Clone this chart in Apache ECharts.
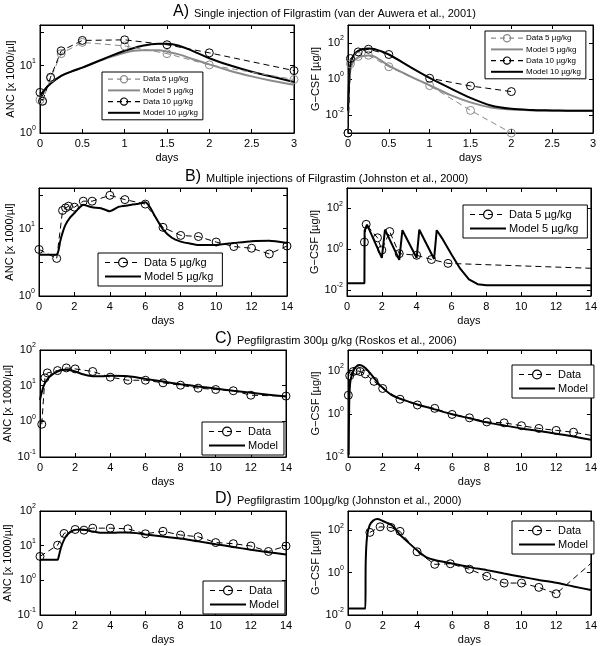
<!DOCTYPE html>
<html>
<head>
<meta charset="utf-8">
<title>G-CSF / ANC</title>
<style>
  html, body { margin: 0; padding: 0; background: #fff; }
  #main { width: 600px; height: 646px; }
</style>
</head>
<body>
<div id="main"></div>
<script src="https://cdn.jsdelivr.net/npm/echarts@6/dist/echarts.min.js"></script>
<script>
// ---- A) single injection of Filgrastim ----
const aAncDataDays = [0, 0.03, 0.125, 0.25, 0.5, 1, 1.5, 2, 3];
const aAncData5 = [3.1, 3.0, 6.5, 15, 22, 19.5, 15, 10.2, 6.2];
const aAncData10 = [4.0, 2.95, 6.7, 16.5, 23.5, 24, 20.3, 15.4, 8.4];
const aAncModelDays = [0, 0.05, 0.125, 0.25, 0.375, 0.5, 0.75, 1, 1.2, 1.4, 1.5, 1.65, 1.8, 2, 2.25, 2.5, 2.75, 3];
const aAncModel5 = [3.5, 4.3, 5.4, 7, 8.2, 9.3, 12.3, 15.5, 16.8, 16.8, 16, 14.5, 12.5, 10.4, 8.3, 6.9, 5.9, 5.2];
const aAncModel10 = [3.5, 4.3, 5.4, 7, 8.2, 9.3, 12.5, 16.5, 19.5, 21, 21, 19.5, 16.5, 12.8, 10, 8.1, 6.8, 5.7];

const aCsfDataDays = [0, 0.03, 0.125, 0.25, 0.5, 1, 1.5, 2];
const aCsfData5 = [0.001, 7, 18, 21, 4.8, 0.43, 0.018, 0.001];
const aCsfData10 = [0.001, 13.7, 32, 45, 23, 1.1, 0.41, 0.2];
const aCsfModelDays = [0, 0.02, 0.04, 0.08, 0.125, 0.18, 0.25, 0.32, 0.5, 0.75, 1, 1.25, 1.5, 1.75, 2, 2.25, 2.5, 2.75, 3];
const aCsfModel5 = [0.017, 1.5, 5, 11, 16, 19, 20, 18, 5.5, 1.5, 0.45, 0.13, 0.05, 0.026, 0.02, 0.018, 0.017, 0.017, 0.017];
const aCsfModel10 = [0.017, 3, 10, 25, 36, 46, 50, 46, 23, 5, 1.15, 0.31, 0.09, 0.034, 0.022, 0.019, 0.018, 0.017, 0.017];

// ---- B) multiple injections of Filgrastim ----
const bAncDataDays = [0, 1, 1.33, 1.5, 1.67, 2, 2.5, 3, 4, 4.85, 6, 7, 8, 9, 10, 11, 12, 13, 14];
const bAncData = [4.9, 3.6, 18.5, 20.2, 21.4, 20.7, 25.4, 25.4, 31, 26.8, 23, 10.4, 7.9, 7.6, 6.3, 5.4, 5.1, 4.2, 5.5];
const bAncModelDays = [0, 1, 1.1, 1.2, 1.35, 1.5, 1.75, 2, 2.25, 2.5, 2.75, 3, 3.5, 4, 4.5, 5, 5.5, 6, 6.25, 6.5, 7, 7.5, 8, 8.5, 9, 10, 11, 12, 13, 14];
const bAncModel = [4.1, 4.1, 4.7, 6.5, 9, 11.4, 14.5, 17, 20, 22.5, 21.5, 20.6, 20, 18, 21, 22, 23, 24.5, 21, 16, 9.7, 7.3, 6.4, 6, 5.7, 5.7, 6.1, 6.5, 6.6, 6.1];

const bCsfDataDays = [1, 1.1, 1.75, 2, 2.45, 3, 4, 4.85, 5.8, 14];
const bCsfData = [2.2, 16.5, 3.6, 0.9, 7.3, 0.6, 0.5, 0.31, 0.2, 0.115];
const bCsfModelDays = [0, 1, 1.01, 1.15, 2, 2.18, 3, 3.18, 4, 4.15, 5, 5.15, 5.5, 6, 6.5, 7, 7.5, 8, 10, 12, 14];
const bCsfModel = [0.021, 0.021, 8, 16, 0.37, 9, 0.3, 8.5, 0.37, 9, 0.33, 8.5, 3, 0.55, 0.11, 0.033, 0.019, 0.017, 0.017, 0.017, 0.017];

// ---- C) Pegfilgrastim 300 ----
const cAncDataDays = [0.1, 0.28, 0.42, 1, 1.5, 2, 3, 4, 5, 6, 7, 8, 9, 10, 11, 12, 14];
const cAncData = [0.83, 16.5, 22.8, 26.5, 31.5, 29.5, 25, 17.3, 14.2, 14.2, 12, 10.3, 8.5, 7.8, 7.2, 5.4, 5.1];
const cAncModelDays = [0, 0.1, 0.25, 0.5, 0.75, 1, 1.25, 1.5, 1.75, 2, 2.5, 3, 3.5, 4, 5, 6, 7, 8, 9, 10, 11, 12, 13, 14];
const cAncModel = [4, 6.5, 11, 17, 21.5, 25, 27.5, 28, 27, 25, 20.5, 18.5, 18.5, 19, 18.5, 15.5, 13, 11, 9.5, 8.3, 7.2, 6.3, 5.6, 5.0];

const cCsfDataDays = [0.02, 0.1, 0.3, 0.5, 0.7, 1, 1.5, 2, 3, 4, 5, 6, 7, 8, 9, 10, 11, 12, 13, 14];
const cCsfData = [7.2, 58, 90, 100, 90, 70, 31.6, 14.8, 4.7, 2.55, 1.78, 0.93, 0.65, 0.42, 0.38, 0.28, 0.21, 0.17, 0.14, 0.1];
const cCsfModelDays = [0.04, 0.07, 0.12, 0.2, 0.35, 0.5, 0.65, 0.8, 1, 1.25, 1.5, 1.75, 2, 2.5, 3, 4, 5, 6, 7, 8, 9, 10, 11, 12, 13, 14];
const cCsfModel = [0.012, 3, 25, 55, 110, 160, 180, 170, 130, 80, 45, 25, 16, 7.5, 5, 2.7, 1.6, 0.95, 0.62, 0.4, 0.29, 0.21, 0.16, 0.12, 0.088, 0.063];

// ---- D) Pegfilgrastim 100 ----
const dAncDataDays = [0, 1, 1.37, 2, 2.5, 3, 4, 5, 6, 7, 8, 9, 10, 11, 12, 13, 14];
const dAncData = [4.9, 10.3, 22.5, 29.3, 28, 32, 32, 30.6, 22, 26, 20.3, 18.1, 12.3, 11.4, 9.8, 6.8, 9.8];
const dAncModelDays = [0, 1, 1.05, 1.2, 1.4, 1.6, 1.8, 2, 2.25, 2.5, 2.75, 3, 3.5, 4, 4.5, 5, 5.5, 6, 7, 8, 9, 10, 11, 12, 13, 14];
const dAncModel = [3.9, 3.9, 4.5, 9, 16, 22, 26, 28.5, 29.5, 29, 27.5, 25.5, 23.5, 23.5, 24, 24, 23, 21, 18.5, 16, 13.3, 11, 9.2, 7.6, 6.5, 5.6];

const dCsfDataDays = [1.26, 1.85, 2.48, 3, 3.98, 5, 5.9, 7, 8, 9, 10, 11, 12, 14];
const dCsfData = [78, 143, 133, 87, 9.5, 2.44, 2.6, 1.43, 0.67, 0.32, 0.32, 0.2, 0.1, 2.7];
const dCsfModelDays = [0, 1, 1.02, 1.1, 1.25, 1.45, 1.7, 2, 2.25, 2.5, 2.75, 3, 3.5, 4, 4.5, 5, 6, 7, 8, 9, 10, 11, 12, 13, 14];
const dCsfModel = [0.02, 0.02, 3, 50, 170, 280, 330, 270, 220, 175, 110, 60, 25, 11, 5.4, 3.9, 2.7, 1.8, 1.3, 0.9, 0.63, 0.45, 0.33, 0.22, 0.15];

// tick exponents shown on the log axes
const ancTicksAB = [0, 1];
const ancTicksCD = [-1, 0, 1, 2];
const csfTicks = [-2, 0, 2];

const TITLES = [
  ['A)', 'Single injection of Filgrastim (van der Auwera et al., 2001)'],
  ['B)', 'Multiple injections of Filgrastim (Johnston et al., 2000)'],
  ['C)', 'Pegfilgrastim 300µ g/kg (Roskos et al., 2006)'],
  ['D)', 'Pegfilgrastim 100µg/kg (Johnston et al., 2000)']
];

const FONT = 'Liberation Sans, Arial, Helvetica, sans-serif';
const GRAY = '#8a8a8a';
const ANC_NAME = 'ANC [x 1000/µl]';
const CSF_NAME = 'G\u2212CSF [µg/l]';

// layout of the 8 panels
const panels = [
  { box: [40, 25, 254, 108], x: [0, 3, 0.5], y: [0, 1.6], ticks: ancTicksAB, yName: ANC_NAME,
    legend: { left: 102, top: 72, small: true },
    series: [
      { name: 'Data 5 µg/kg', days: aAncDataDays, vals: aAncData5, data: true, gray: true },
      { name: 'Model 5 µg/kg', days: aAncModelDays, vals: aAncModel5, gray: true, smooth: 0.4 },
      { name: 'Data 10 µg/kg', days: aAncDataDays, vals: aAncData10, data: true },
      { name: 'Model 10 µg/kg', days: aAncModelDays, vals: aAncModel10, smooth: 0.4 }
    ] },
  { box: [348, 25, 245, 108], x: [0, 3, 0.5], y: [-3, 3], ticks: csfTicks, yName: CSF_NAME,
    legend: { left: 485, top: 31, small: true },
    series: [
      { name: 'Data 5 µg/kg', days: aCsfDataDays, vals: aCsfData5, data: true, gray: true },
      { name: 'Model 5 µg/kg', days: aCsfModelDays, vals: aCsfModel5, gray: true, smooth: 0.3 },
      { name: 'Data 10 µg/kg', days: aCsfDataDays, vals: aCsfData10, data: true },
      { name: 'Model 10 µg/kg', days: aCsfModelDays, vals: aCsfModel10, smooth: 0.3 }
    ] },
  { box: [39, 188, 248, 108], x: [0, 14, 2], y: [0, 1.6], ticks: ancTicksAB, yName: ANC_NAME,
    legend: { left: 98, top: 253 },
    series: [
      { name: 'Data 5 µg/kg ', days: bAncDataDays, vals: bAncData, data: true },
      { name: 'Model 5 µg/kg ', days: bAncModelDays, vals: bAncModel, smooth: 0.2 }
    ] },
  { box: [347, 188, 245, 108], x: [0, 14, 2], y: [-2.3, 3], ticks: csfTicks, yName: CSF_NAME,
    legend: { left: 463, top: 205 },
    series: [
      { name: 'Data 5 µg/kg ', days: bCsfDataDays, vals: bCsfData, data: true, open: true },
      { name: 'Model 5 µg/kg ', days: bCsfModelDays, vals: bCsfModel, smooth: 0 }
    ] },
  { box: [40, 350, 246, 107], x: [0, 14, 2], y: [-1, 2], ticks: ancTicksCD, yName: ANC_NAME,
    legend: { left: 202, top: 422 },
    series: [
      { name: 'Data', days: cAncDataDays, vals: cAncData, data: true },
      { name: 'Model', days: cAncModelDays, vals: cAncModel, smooth: 0.3 }
    ] },
  { box: [348, 350, 245, 107], x: [0, 14, 2], y: [-2, 2.95], ticks: csfTicks, yName: CSF_NAME,
    legend: { left: 512, top: 365 },
    series: [
      { name: 'Data', days: cCsfDataDays, vals: cCsfData, data: true, open: true },
      { name: 'Model', days: cCsfModelDays, vals: cCsfModel, smooth: 0.3 }
    ] },
  { box: [40, 511, 246, 105], x: [0, 14, 2], y: [-1, 2], ticks: ancTicksCD, yName: ANC_NAME,
    legend: { left: 203, top: 581 },
    series: [
      { name: 'Data', days: dAncDataDays, vals: dAncData, data: true },
      { name: 'Model', days: dAncModelDays, vals: dAncModel, smooth: 0.2 }
    ] },
  { box: [348, 511, 245, 105], x: [0, 14, 2], y: [-2, 2.9], ticks: csfTicks, yName: CSF_NAME,
    legend: { left: 512, top: 521 },
    series: [
      { name: 'Data', days: dCsfDataDays, vals: dCsfData, data: true, open: true },
      { name: 'Model', days: dCsfModelDays, vals: dCsfModel, smooth: 0.25 }
    ] }
];

const titleTops = [-2, 163, 325, 485];
const titleLefts = [168, 180, 210, 210];

let grids = [], xAxes = [], yAxes = [], series = [], legends = [], titles = [];

TITLES.forEach(function (t, i) {
  titles.push({
    text: '{a|' + t[0] + '} {b|' + t[1] + '}',
    left: titleLefts[i], top: titleTops[i],
    textStyle: {
      fontFamily: FONT, fontWeight: 'normal',
      rich: {
        a: { fontSize: 16, color: '#000', fontFamily: FONT, fontWeight: 'normal' },
        b: { fontSize: 11, color: '#000', fontFamily: FONT, fontWeight: 'normal', padding: [3, 0, 0, 0] }
      }
    }
  });
});

function yLabel(v) {
  const e = Math.round(v);
  if (Math.abs(v - e) > 1e-6) return '';
  return '{m|10}{e|' + e + '}';
}

panels.forEach(function (p, i) {
  grids.push({ left: p.box[0], top: p.box[1], width: p.box[2], height: p.box[3],
    show: true, borderColor: '#000', borderWidth: 1, backgroundColor: '#fff' });

  const tickOn = { show: true, inside: true, length: 4, lineStyle: { color: '#000', width: 1 } };
  const lineOn = { show: true, onZero: false, lineStyle: { color: '#000', width: 1 } };
  const ticks = p.ticks;

  // bottom and top x axes
  xAxes.push({ type: 'value', gridIndex: i, position: 'bottom', min: p.x[0], max: p.x[1], interval: p.x[2],
    name: 'days', nameLocation: 'middle', nameGap: 19,
    nameTextStyle: { fontFamily: FONT, fontSize: 11, color: '#000' },
    axisLine: lineOn, axisTick: tickOn, splitLine: { show: false },
    axisLabel: { fontFamily: FONT, fontSize: 11, color: '#000', margin: 5 } });
  xAxes.push({ type: 'value', gridIndex: i, position: 'top', min: p.x[0], max: p.x[1], interval: p.x[2],
    axisLine: lineOn, axisTick: tickOn, splitLine: { show: false }, axisLabel: { show: false } });

  // left and right y axes, log10 of the values
  yAxes.push({ type: 'value', gridIndex: i, position: 'left', min: p.y[0], max: p.y[1], splitNumber: 3,
    name: p.yName, nameLocation: 'middle', nameGap: 24,
    nameTextStyle: { fontFamily: FONT, fontSize: 11, color: '#000' },
    axisLine: lineOn, axisTick: tickOn, splitLine: { show: false },
    axisLabel: {
      showMinLabel: true, showMaxLabel: true, margin: 4,
      formatter: function (v) { return ticks.indexOf(Math.round(v)) >= 0 ? yLabel(v) : ''; },
      rich: {
        m: { fontFamily: FONT, fontSize: 11, color: '#000' },
        e: { fontFamily: FONT, fontSize: 7, color: '#000', padding: [0, 0, 9, 0] }
      }
    } });
  yAxes.push({ type: 'value', gridIndex: i, position: 'right', min: p.y[0], max: p.y[1], splitNumber: 3,
    axisLine: lineOn, axisTick: tickOn, splitLine: { show: false }, axisLabel: { show: false } });

  const legendItems = [];
  p.series.forEach(function (s) {
    const pts = s.days.map(function (d, k) { return [d, Math.log10(s.vals[k])]; });
    const col = s.gray ? GRAY : '#000';
    if (s.data) {
      series.push({
        type: 'line', name: s.name, xAxisIndex: 2 * i, yAxisIndex: 2 * i,
        data: pts.map(function (pt, k) {
          return (s.open && k === pts.length - 1) ? { value: pt, symbol: 'none' } : pt;
        }),
        symbol: 'circle', symbolSize: 8, showAllSymbol: true,
        itemStyle: { color: 'rgba(255,255,255,0)', borderColor: col, borderWidth: 1 },
        lineStyle: { color: col, width: 1, type: [6, 4] },
        emphasis: { disabled: true }, z: 3
      });
      legendItems.push({ name: s.name,
        itemStyle: { color: 'rgba(255,255,255,0)', borderColor: col, borderWidth: 1.2, opacity: 1 },
        lineStyle: { color: col, width: 1.2, type: [5, 4], opacity: 1 } });
    } else {
      series.push({
        type: 'line', name: s.name, xAxisIndex: 2 * i, yAxisIndex: 2 * i,
        data: pts, symbol: 'none', smooth: s.smooth || false,
        itemStyle: { color: col },
        lineStyle: { color: col, width: 2 },
        emphasis: { disabled: true }, z: 2
      });
      legendItems.push({ name: s.name,
        itemStyle: { color: 'rgba(255,255,255,0)', borderWidth: 0, opacity: 0 },
        lineStyle: { color: col, width: 2, type: 'solid', opacity: 1 } });
    }
  });

  const small = p.legend.small;
  legends.push({
    left: p.legend.left, top: p.legend.top, orient: 'vertical',
    data: legendItems,
    itemWidth: small ? 32 : 36, itemHeight: small ? 9 : 11, itemGap: small ? 3 : 3,
    padding: small ? [3, 5, 3, 5] : [4, 6, 4, 6],
    borderColor: '#000', borderWidth: 1, backgroundColor: '#fff',
    selectedMode: false,
    textStyle: { fontFamily: FONT, fontSize: small ? 8 : 11, color: '#000', padding: [0, 0, 0, -2] }
  });
});

const myChart = echarts.init(document.getElementById('main'), null, { renderer: 'canvas' });
myChart.setOption({
  animation: false,
  backgroundColor: '#fff',
  title: titles,
  grid: grids,
  xAxis: xAxes,
  yAxis: yAxes,
  legend: legends,
  series: series
});
</script>
</body>
</html>
